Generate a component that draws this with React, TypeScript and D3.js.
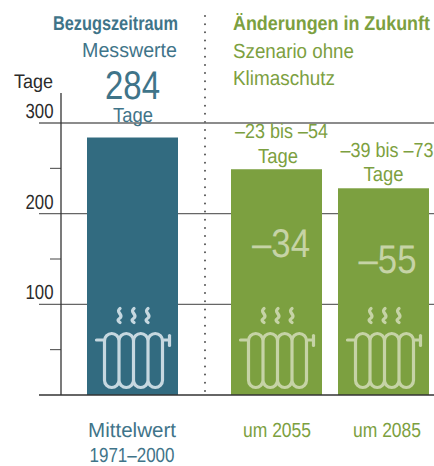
import React, { useLayoutEffect, useRef } from "react";
import * as d3 from "d3";

const categories = ["Mittelwert 1971–2000", "um 2055", "um 2085"];
const barValues = [284, 249, 228];
const barColors = ["#326b80", "#7ca040", "#7ca040"];
const iconColors = ["#c6d8e0", "#c6d3a6", "#c6d3a6"];
const majorTicks = [100, 200, 300];
const minorTicks = [50, 150, 250];
const changeLabels = ["", "–34", "–55"];

const FONT = "'Liberation Sans', sans-serif";
const BLUE = "#3f7489";
const GREEN = "#7ca040";
const DARK = "#2b2b2b";

const y = d3.scaleLinear().domain([0, 300]).range([395, 123]);
const barCenter = d3.scaleOrdinal<string, number>().domain(categories).range([132.5, 276.5, 383.5]);
const BAR_W = 91;

function T({ x, y: yy, s, c, w, a = "middle", b, len }: any) {
  const ref = useRef<SVGTextElement>(null);
  useLayoutEffect(() => {
    const el = ref.current;
    if (!el) return;
    const natural = el.getComputedTextLength();
    const sx = len / natural;
    el.setAttribute("transform", `translate(${x},${yy}) scale(${sx},1)`);
  }, [x, yy, len, w, s]);
  return (
    <text ref={ref} transform={`translate(${x},${yy})`} fontSize={s} fill={c} fontWeight={b ? 700 : 400} textAnchor={a} fontFamily={FONT}
      textRendering="geometricPrecision">{w}</text>
  );
}

function Radiator({ cx, color }: { cx: number; color: string }) {
  const colW = 14.5;
  const left = -28;
  const top = 333.5;
  const bottom = 387.5;
  const r = colW / 2;
  const p = d3.path();
  p.moveTo(left - 8, 340);
  p.lineTo(left, 340);
  p.moveTo(left + 4 * colW, 340);
  p.lineTo(left + 4 * colW + 6, 340);
  const cols = d3.range(4);
  p.moveTo(left, bottom - r);
  p.lineTo(left, top + r);
  cols.forEach((i) => {
    const x0 = left + i * colW;
    p.arc(x0 + r, top + r, r, Math.PI, 0);
    p.moveTo(x0 + colW, top + r);
    p.lineTo(x0 + colW, bottom - r);
    p.moveTo(x0 + colW, bottom - r);
  });
  p.moveTo(left, bottom - r);
  cols.forEach((i) => {
    const x0 = left + i * colW;
    p.arc(x0 + r, bottom - r, r, Math.PI, 0, true);
  });
  const waves = [-13.5, 0.5, 14.5];
  return (
    <g transform={`translate(${cx},0)`} fill="none" stroke={color} strokeLinecap="round">
      <path d={p.toString()} strokeWidth={3.2} />
      <path d={`M${left + 4 * colW + 7},335.5V345.5`} strokeWidth={3.2} />
      {waves.map((wx) => (
        <path key={wx} d={`M${wx + 1},308.5c-5,4 4,6 0,9.5c-3,2 -2,3 0,4.5`} strokeWidth={3.3} />
      ))}
    </g>
  );
}

export default function App() {
  return (
    <svg width={434} height={466} style={{ position: "absolute", left: 0, top: 0 }}>
      <rect width={434} height={466} fill="#fff" />
      <line x1={205} x2={205} y1={16} y2={395} stroke="#555" strokeWidth={2} strokeDasharray="0 8.15" strokeLinecap="round" />
      {majorTicks.map((t) => (
        <line key={t} x1={39} x2={434} y1={y(t)} y2={y(t)} stroke="#666" strokeWidth={1.3} />
      ))}
      {minorTicks.map((t) => (
        <line key={t} x1={50} x2={61} y1={y(t)} y2={y(t)} stroke="#444" strokeWidth={1} />
      ))}
      {categories.map((c, i) => (
        <rect key={c} x={barCenter(c) - BAR_W / 2} width={BAR_W} y={y(barValues[i])} height={y(0) - y(barValues[i])} fill={barColors[i]} />
      ))}
      <line x1={61} x2={61} y1={93} y2={395} stroke="#333" strokeWidth={1.3} />
      <line x1={39} x2={434} y1={y(0)} y2={y(0)} stroke="#333" strokeWidth={1.5} />
      {categories.map((c, i) => (
        <Radiator key={c} cx={barCenter(c)} color={iconColors[i]} />
      ))}

      <T x={14} y={88} s={19.5} c={DARK} w="Tage" a="start" len={39} />
      {majorTicks.map((t) => (
        <T key={t} x={53.5} y={y(t) - 5} s={20.5} c={DARK} w={String(t)} a="end" len={28} />
      ))}

      <T x={115.5} y={29.5} s={20} c={BLUE} w="Bezugszeitraum" b len={125} />
      <T x={129.5} y={57} s={20.5} c={BLUE} w="Messwerte" len={95} />
      <T x={132.5} y={99} s={40} c={BLUE} w="284" len={55} />
      <T x={133} y={122} s={20.5} c={BLUE} w="Tage" len={40} />

      <T x={233} y={29.5} s={20} c={GREEN} w="Änderungen in Zukunft" a="start" b len={197} />
      <T x={233} y={57.5} s={20.5} c={GREEN} w="Szenario ohne" a="start" len={121} />
      <T x={233} y={85} s={20.5} c={GREEN} w="Klimaschutz" a="start" len={102} />

      <T x={281.5} y={138} s={20.5} c={GREEN} w="–23 bis –54" len={93} />
      <T x={278} y={162.5} s={20.5} c={GREEN} w="Tage" len={40} />
      <T x={387} y={156.7} s={20.5} c={GREEN} w="–39 bis –73" len={93} />
      <T x={383.5} y={181} s={20.5} c={GREEN} w="Tage" len={40} />

      <T x={281} y={257} s={40} c={iconColors[1]} w={changeLabels[1]} len={58} />
      <T x={387.5} y={273} s={40} c={iconColors[2]} w={changeLabels[2]} len={58} />

      <T x={132} y={437} s={20.5} c={BLUE} w="Mittelwert" len={88} />
      <T x={132} y={462} s={20.5} c={BLUE} w="1971–2000" len={85} />
      <T x={277} y={437} s={20.5} c={GREEN} w="um 2055" len={68} />
      <T x={387} y={437} s={20.5} c={GREEN} w="um 2085" len={68} />
    </svg>
  );
}
